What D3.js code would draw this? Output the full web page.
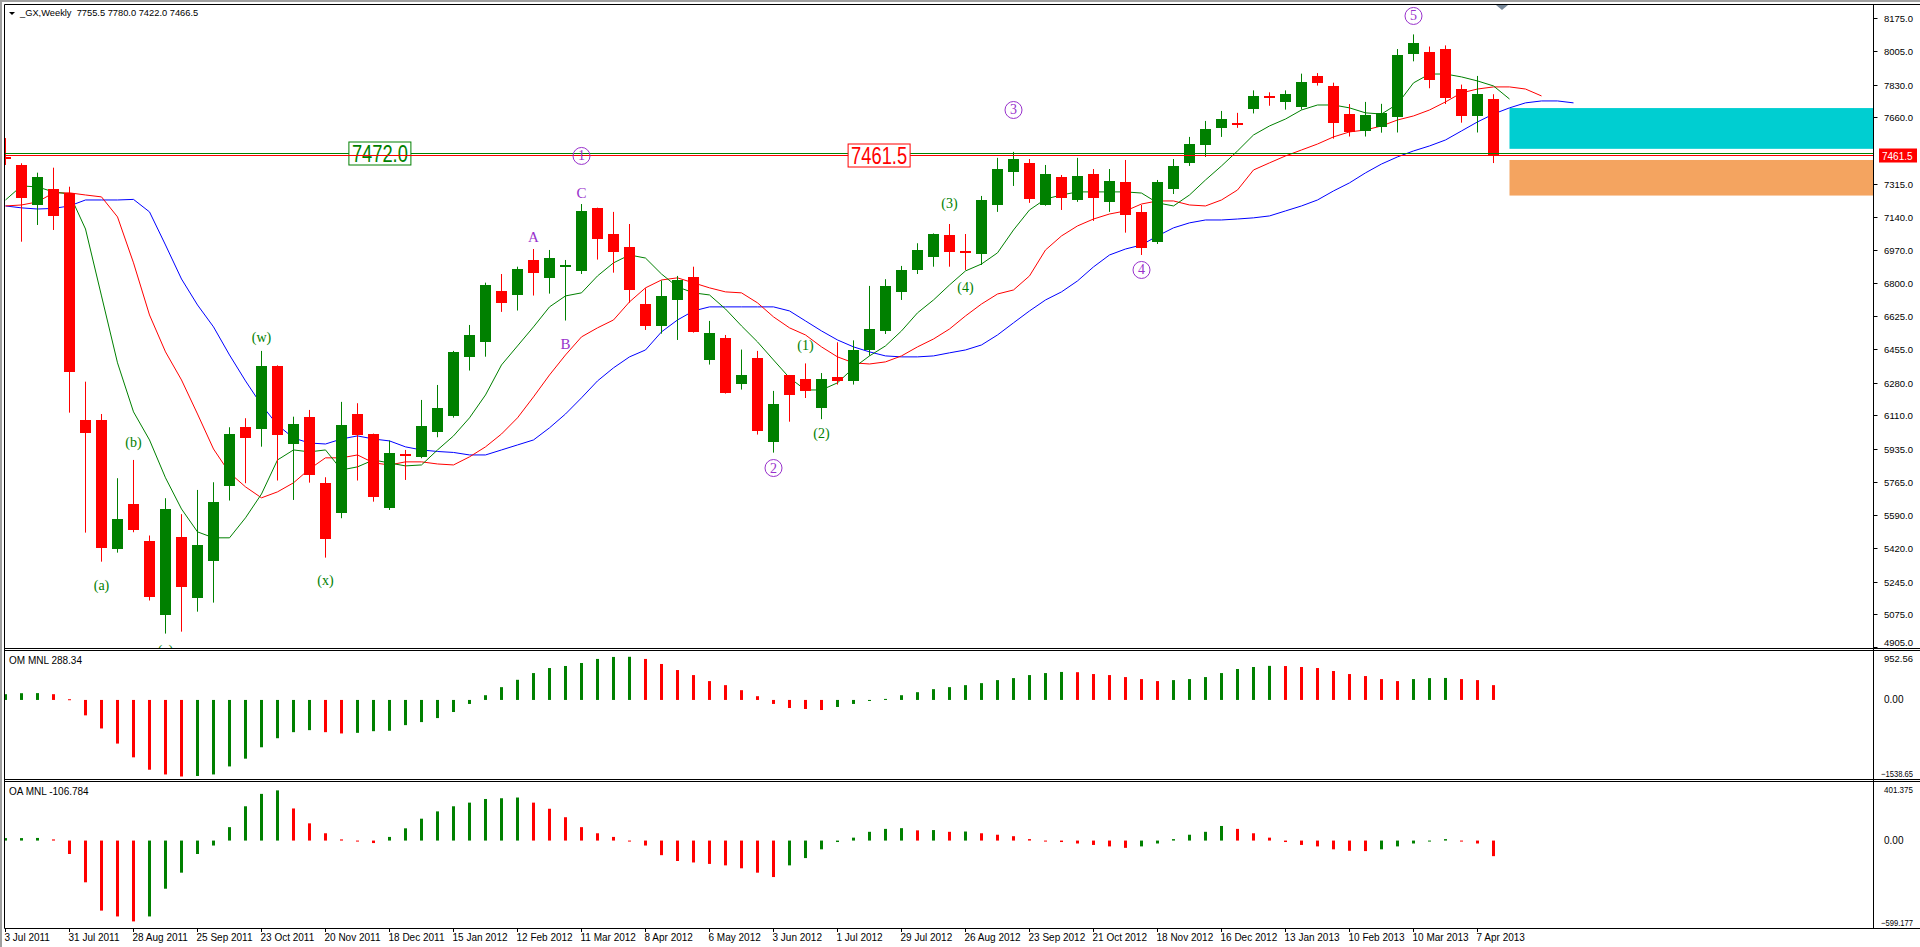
<!DOCTYPE html>
<html>
<head>
<meta charset="utf-8">
<title>_GX Weekly</title>
<script src="https://cdn.jsdelivr.net/npm/d3@7.9.0/dist/d3.min.js"></script>
<style>
  html, body { margin: 0; padding: 0; background: #fff; }
  svg { display: block; }
  text { font-family: "Liberation Sans", Arial, sans-serif; }
</style>
</head>
<body>
<svg id="chart" width="1920" height="947"></svg>
<script>
// weekly candles, bar 0 = week of 3 Jul 2011
const opens = [7452,7412,7204,7287,7268,6086,6086,5417,5649,5457,5074,5478,5162,5355,5745,6050,6041,6367,5963,6102,
  5759,5604,6117,6013,5630,5908,5895,6025,6109,6415,6493,6757,6738,6918,6826,6886,6863,7189,7053,6986,
  6689,6577,6712,6831,6400,6513,6275,6409,5973,6320,6300,6150,6310,6290,6450,6549,6753,6866,6935,7048,
  6967,6949,7204,7376,7423,7204,7350,7230,7365,7220,7324,7168,7012,7287,7423,7516,7605,7628,7700,7770,
  7740,7715,7875,7823,7677,7589,7607,7664,7989,8002,8015,7805,7669,7755.5];
const highs = [7552,7421,7372,7398,7299,6285,6117,5783,5878,5485,5679,5596,5722,5762,6048,6095,6445,6370,6103,6138,
  5788,6180,6173,6015,5979,5930,6190,6268,6445,6580,6800,6845,6883,6975,6970,6918,7209,7190,7168,7105,
  6771,6811,6835,6883,6601,6528,6452,6445,6237,6320,6380,6330,6490,6500,6783,6818,6887,7005,7056,7105,
  7053,7251,7449,7480,7443,7412,7360,7449,7391,7391,7438,7204,7334,7443,7558,7641,7693,7683,7800,7790,
  7800,7887,7890,7840,7729,7740,7730,8015,8091,8028,8034,7830,7875,7780];
const lows = [7412,7013,7100,7074,6124,5500,5349,5396,5502,5147,4975,4985,5089,5136,5667,5757,5947,5771,5670,5760,
  5370,5575,5771,5661,5618,5774,5887,5996,6098,6343,6415,6648,6655,6733,6743,6603,6845,6920,6852,6696,
  6554,6535,6502,6540,6374,6223,6244,6010,5916,6077,6200,6090,6270,6270,6420,6533,6710,6845,6883,6883,
  6866,6892,7168,7303,7215,7200,7178,7220,7121,7168,7060,6944,7001,7261,7407,7454,7558,7605,7680,7720,
  7700,7700,7825,7549,7560,7560,7580,7581,7951,7811,7729,7632,7581,7422];
const closes = [7447,7242,7351,7147,6337,6017,5422,5571,5516,5167,5623,5219,5436,5660,6013,5994,6367,6010,6065,5802,
  5467,6060,6010,5687,5916,5902,6055,6149,6440,6528,6788,6696,6871,6852,6929,6891,7173,7029,6961,6764,
  6577,6731,6814,6544,6539,6228,6320,6031,6169,6218,6240,6300,6290,6450,6560,6783,6866,6970,7053,6961,
  6962,7230,7391,7443,7235,7365,7241,7355,7241,7329,7152,6981,7324,7407,7521,7599,7651,7622,7770,7760,
  7780,7844,7836,7632,7581,7670,7682,7984,8046,7856,7760,7664,7783,7466.5];

// alligator style averages, read per bar (they run past the last candle)
const lipsLine = [7230,7303,7298,7272,7261,7079,6731,6383,6128,5982,5785,5623,5504,5473,5473,5577,5701,5878,5930,5920,
  5930,5826,5842,5878,5862,5847,5852,5930,6003,6097,6216,6372,6471,6570,6674,6731,6747,6835,6903,6944,
  6928,6845,6778,6747,6736,6663,6575,6492,6398,6305,6242,6242,6279,6357,6419,6471,6549,6643,6710,6788,
  6861,6897,6955,7074,7178,7235,7256,7272,7272,7272,7272,7266,7215,7199,7256,7334,7407,7485,7568,7615,
  7651,7698,7724,7724,7709,7683,7677,7729,7839,7885,7885,7870,7849,7823,7755];
const teethLine = [7199,7204,7220,7267,7267,7256,7246,7142,6903,6632,6440,6294,6117,5935,5811,5738,5681,5712,5759,5831,
  5889,5889,5904,5863,5852,5868,5868,5857,5852,5894,5946,6013,6097,6206,6320,6424,6518,6565,6606,6700,
  6773,6814,6825,6799,6773,6752,6747,6695,6622,6565,6528,6466,6414,6383,6377,6388,6419,6466,6507,6559,
  6627,6689,6741,6762,6835,6970,7043,7095,7131,7157,7173,7209,7225,7225,7204,7199,7230,7282,7386,7423,
  7459,7490,7521,7558,7584,7594,7615,7646,7667,7698,7740,7787,7807,7818,7818,7807,7771];
const jawLine = [7199,7189,7183,7186,7199,7230,7230,7230,7233,7168,6996,6819,6684,6570,6424,6289,6164,6060,5992,5966,
  5961,5987,6003,5987,5977,5946,5930,5922,5917,5904,5904,5930,5956,5982,6045,6117,6201,6289,6357,6414,
  6450,6544,6606,6653,6674,6674,6674,6674,6674,6653,6601,6549,6502,6466,6440,6419,6414,6414,6419,6435,
  6450,6476,6528,6591,6653,6710,6752,6809,6882,6944,6975,6996,7043,7085,7111,7126,7126,7131,7137,7147,
  7173,7199,7230,7277,7319,7371,7417,7454,7485,7511,7542,7589,7636,7677,7709,7735,7745,7745,7735];

// oscillator histograms
const omValues = [112,131,133,112,14,-300,-555,-849,-1117,-1358,-1450,-1490,-1480,-1450,-1294,-1143,-921,-745,-627,-588,
  -627,-652,-640,-608,-600,-490,-431,-353,-235,-78,92,249,392,523,621,661,719,798,837,840,
  798,700,582,484,367,288,190,73,-78,-157,-176,-196,-137,-78,-20,20,92,151,210,249,
  288,327,386,425,484,523,545,540,504,484,445,406,367,386,406,445,523,602,641,663,
  660,641,621,563,504,465,406,367,406,425,428,406,386,288.34];
const oaValues = [17,17,18,8,-92,-286,-480,-520,-554,-520,-330,-220,-92,-34,92,235,320,344,220,118,
  50,8,0,-17,25,84,150,200,235,260,285,290,295,260,218,160,92,50,25,0,
  -34,-100,-140,-150,-160,-170,-190,-220,-250,-170,-120,-60,-10,20,60,80,85,70,72,60,
  62,50,40,30,10,0,-10,-20,-30,-40,-50,-40,-20,10,40,60,100,80,50,20,
  -10,-30,-40,-60,-70,-72,-60,-40,-20,0,10,0,-20,-106.784];

const priceTicks = [8175.0,8005.0,7830.0,7660.0,7315.0,7140.0,6970.0,6800.0,6625.0,6455.0,6280.0,6110.0,
  5935.0,5765.0,5590.0,5420.0,5245.0,5075.0,4905.0];
const dateTicks = ["3 Jul 2011","31 Jul 2011","28 Aug 2011","25 Sep 2011","23 Oct 2011","20 Nov 2011",
  "18 Dec 2011","15 Jan 2012","12 Feb 2012","11 Mar 2012","8 Apr 2012","6 May 2012","3 Jun 2012",
  "1 Jul 2012","29 Jul 2012","26 Aug 2012","23 Sep 2012","21 Oct 2012","18 Nov 2012","16 Dec 2012",
  "13 Jan 2013","10 Feb 2013","10 Mar 2013","7 Apr 2013"];

const levelPrices = [7472.0, 7461.5];
const levelLabelBars = [23.4, 54.6];
const upperZone = [7708, 7496];
const lowerZone = [7438, 7253];

// wave marks: [text, bar, price]
const circleMarks = [["1", 36, 7459], ["2", 48, 5836], ["3", 63, 7698], ["4", 71, 6866], ["5", 88, 8187]];
const letterMarks = [["A", 33, 7039], ["B", 35, 6481], ["C", 36, 7265]];
const minorMarks = [["(w)", 16, 6519], ["(b)", 8, 5973], ["(a)", 6, 5228], ["(c)", 10, 4890], ["(x)", 20, 5254],
  ["(1)", 50, 6478], ["(2)", 51, 6018], ["(3)", 59, 7213], ["(4)", 60, 6779]];

const GREEN = '#008000', RED = '#ff0000', BLUE = '#0000ff', PURPLE = '#9932cc';
const MARK_FONT = '"Liberation Serif", "Times New Roman", serif';
const left = 4.5, right = 1873.5;

const svg = d3.select('#chart');
svg.append('rect').attr('width', 1920).attr('height', 947).attr('fill', '#fff');

const x = d3.scaleLinear().domain([0, 93]).range([5.5, 1493.5]);
const y = d3.scaleLinear().domain([4900, 8244]).range([648, 5]);
const yOM = d3.scaleLinear().domain([-1538.65, 952.56]).range([779, 651]);
const yOA = d3.scaleLinear().domain([-599.177, 401.375]).range([928, 782]);

const defs = svg.append('defs');
defs.append('clipPath').attr('id', 'clipMain').append('rect')
  .attr('x', 5).attr('y', 5).attr('width', 1868).attr('height', 643);
defs.append('clipPath').attr('id', 'clipSub').append('rect')
  .attr('x', 5).attr('y', 651).attr('width', 1868).attr('height', 277);

const main = svg.append('g').attr('clip-path', 'url(#clipMain)');

// zones
main.append('rect').attr('x', x(94)).attr('y', y(upperZone[0]))
  .attr('width', right - x(94)).attr('height', y(upperZone[1]) - y(upperZone[0])).attr('fill', '#00ced1');
main.append('rect').attr('x', x(94)).attr('y', y(lowerZone[0]))
  .attr('width', right - x(94)).attr('height', y(lowerZone[1]) - y(lowerZone[0])).attr('fill', '#f4a460');

// averages
const lineGen = d3.line().x((d, i) => x(i)).y(d => y(d));
[[jawLine, BLUE], [teethLine, RED], [lipsLine, GREEN]].forEach(([vals, col]) => {
  main.append('path').attr('d', lineGen(vals)).attr('fill', 'none')
    .attr('stroke', col).attr('stroke-width', 1);
});

// candles
opens.forEach((o, i) => {
  const c = closes[i];
  const col = c >= o ? GREEN : RED;
  const cx = x(i);
  main.append('line').attr('x1', cx).attr('x2', cx)
    .attr('y1', y(highs[i])).attr('y2', y(lows[i])).attr('stroke', col).attr('stroke-width', 1);
  const top = y(Math.max(o, c)), bot = y(Math.min(o, c));
  main.append('rect').attr('x', cx - 5.5).attr('y', Math.round(top))
    .attr('width', 11).attr('height', Math.max(2, Math.round(bot - top))).attr('fill', col);
});

// level lines
[[levelPrices[0], GREEN], [levelPrices[1], RED]].forEach(([p, col], k) => {
  const ly = Math.round(y(p)) + 0.5;
  main.append('line').attr('x1', left).attr('x2', right).attr('y1', ly).attr('y2', ly)
    .attr('stroke', col).attr('stroke-width', 1.2);
  const cx = x(levelLabelBars[k]);
  main.append('rect').attr('x', cx - 31).attr('y', ly - 11.5).attr('width', 62).attr('height', 23)
    .attr('fill', '#fff').attr('stroke', col).attr('stroke-width', 1);
  main.append('text').attr('x', cx).attr('y', ly + 8.5).attr('text-anchor', 'middle')
    .attr('font-size', 24).attr('fill', col)
    .attr('textLength', 56).attr('lengthAdjust', 'spacingAndGlyphs')
    .text(d3.format('.1f')(p));
});

// wave marks
circleMarks.forEach(([t, b, p]) => {
  main.append('circle').attr('cx', x(b)).attr('cy', y(p)).attr('r', 8.5)
    .attr('fill', 'none').attr('stroke', PURPLE).attr('stroke-width', 1);
  main.append('text').attr('x', x(b)).attr('y', y(p) + 4.5).attr('text-anchor', 'middle')
    .style('font-family', MARK_FONT).attr('font-size', 14).attr('fill', PURPLE).text(t);
});
letterMarks.forEach(([t, b, p]) => {
  main.append('text').attr('x', x(b)).attr('y', y(p) + 5).attr('text-anchor', 'middle')
    .style('font-family', MARK_FONT).attr('font-size', 15).attr('fill', PURPLE).text(t);
});
minorMarks.forEach(([t, b, p]) => {
  main.append('text').attr('x', x(b)).attr('y', y(p) + 5).attr('text-anchor', 'middle')
    .style('font-family', MARK_FONT).attr('font-size', 14).attr('fill', GREEN).text(t);
});

// histograms
const sub = svg.append('g').attr('clip-path', 'url(#clipSub)');
function histogram(vals, ys) {
  vals.forEach((v, i) => {
    const col = (i === 0 || v >= vals[i - 1]) ? GREEN : RED;
    const y0 = ys(0), y1 = ys(v);
    sub.append('rect').attr('x', x(i) - 1.5).attr('y', Math.min(y0, y1))
      .attr('width', 3).attr('height', Math.max(1, Math.abs(y1 - y0))).attr('fill', col);
  });
}
histogram(omValues, yOM);
histogram(oaValues, yOA);

// frame
const frame = svg.append('g').attr('fill', 'none').attr('stroke', '#000').attr('stroke-width', 1);
frame.append('rect').attr('x', 0).attr('y', 0).attr('width', 1920).attr('height', 2).attr('fill', '#a0a0a0').attr('stroke', 'none');
frame.append('rect').attr('x', 0).attr('y', 0).attr('width', 2).attr('height', 947).attr('fill', '#a0a0a0').attr('stroke', 'none');
frame.append('line').attr('x1', left).attr('x2', 1920).attr('y1', 4.5).attr('y2', 4.5);
frame.append('line').attr('x1', left).attr('x2', left).attr('y1', 4.5).attr('y2', 928.5);
frame.append('line').attr('x1', right).attr('x2', right).attr('y1', 4.5).attr('y2', 928.5);
frame.append('line').attr('x1', left).attr('x2', 1920).attr('y1', 928.5).attr('y2', 928.5);
[648.5, 650.5, 779.5, 781.5].forEach(v => {
  frame.append('line').attr('x1', left).attr('x2', 1920).attr('y1', v).attr('y2', v);
});

// shift marker
svg.append('path').attr('d', d3.line()([[1496, 5], [1508, 5], [1502, 10]]) + 'Z').attr('fill', '#778899');

// header
svg.append('path').attr('d', d3.line()([[9, 12], [15, 12], [12, 15]]) + 'Z').attr('fill', '#000');
svg.append('text').attr('x', 20).attr('y', 16).attr('font-size', 9.3).attr('fill', '#000')
  .text('_GX,Weekly\u00a0\u00a0' + [opens[93], highs[93], lows[93], closes[93]].map(d3.format('.1f')).join(' '));
svg.append('text').attr('x', 9).attr('y', 664).attr('font-size', 10).attr('fill', '#000')
  .text('OM MNL ' + omValues[93]);
svg.append('text').attr('x', 9).attr('y', 795).attr('font-size', 10).attr('fill', '#000')
  .text('OA MNL ' + oaValues[93]);

// price axis
const axisG = svg.append('g').attr('font-size', 10).attr('fill', '#000');
function axisText(tx, ty, str) {
  const t = axisG.append('text').attr('x', tx).attr('y', ty).text(str);
  const len = t.node().getComputedTextLength();
  if (tx + len > 1913) t.attr('font-size', 9).attr('textLength', 1913 - tx).attr('lengthAdjust', 'spacingAndGlyphs');
  return t;
}
priceTicks.forEach(v => {
  const ty = Math.round(y(v)) + 0.5;
  axisG.append('line').attr('x1', right).attr('x2', right + 4).attr('y1', ty).attr('y2', ty).attr('stroke', '#000');
  axisText(1884, Math.min(ty + 3.5, 646), d3.format('.1f')(v));
});
const bidY = Math.round(y(levelPrices[1])) + 0.5;
svg.append('rect').attr('x', 1879).attr('y', bidY - 7).attr('width', 38).attr('height', 14).attr('fill', RED);
svg.append('text').attr('x', 1882).attr('y', bidY + 4).attr('font-size', 10).attr('fill', '#fff')
  .text(d3.format('.1f')(levelPrices[1]));

// sub window scales
function subAxis(ys, fmt, dom) {
  const [lo, hi] = dom;
  axisText(1884, ys(hi) + 11, fmt(hi));
  axisText(1884, ys(0) + 3.5, fmt(0));
  axisText(1881, ys(lo) - 2, fmt(lo));
}
subAxis(yOM, d3.format('.2f'), yOM.domain());
subAxis(yOA, d => d === 0 ? '0.00' : d3.format('.3f')(d), yOA.domain());

// time axis
dateTicks.forEach((t, k) => {
  const tx = x(k * 4);
  axisG.append('line').attr('x1', tx).attr('x2', tx).attr('y1', 928.5).attr('y2', 932).attr('stroke', '#000');
  axisG.append('text').attr('x', tx - 1).attr('y', 941).text(t);
});
</script>
</body>
</html>
